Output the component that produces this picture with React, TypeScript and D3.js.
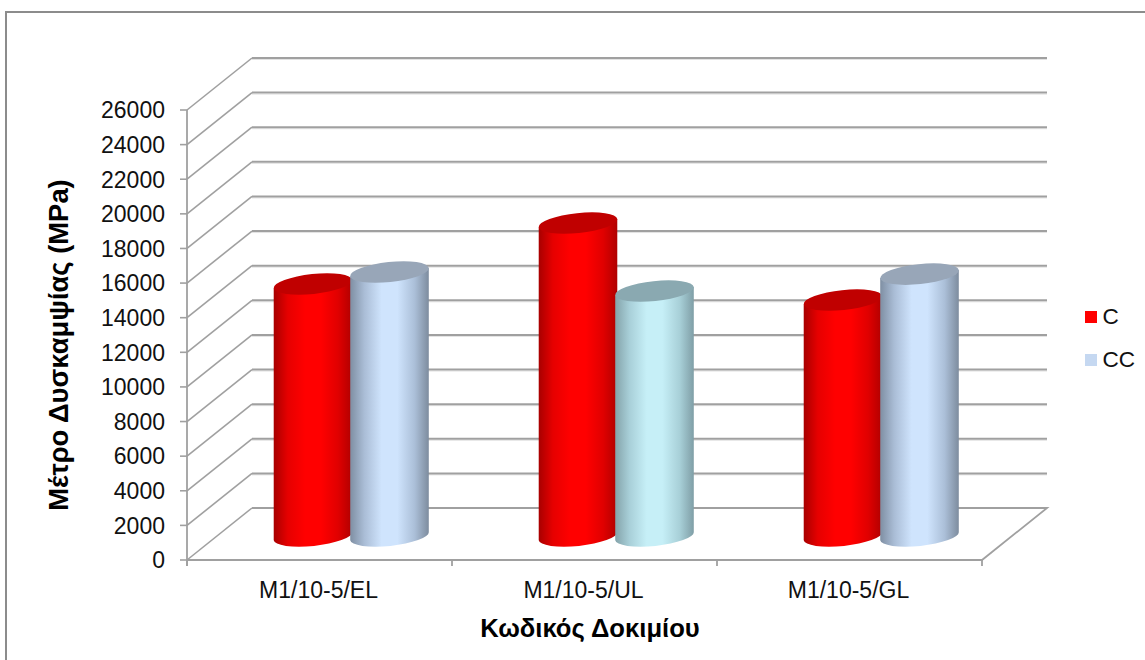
import React from "react";
import * as d3 from "d3";

const categories = ["M1/10-5/EL", "M1/10-5/UL", "M1/10-5/GL"];
const seriesC = [14560, 18080, 13630];
const seriesCC = [15250, 14150, 15130];
const tickValues = d3.range(0, 26001, 2000);
const legendLabels = ["C", "CC"];
const sans = "'Liberation Sans', Arial, sans-serif";

const W = 1145, H = 660;
const x0 = 187, x1 = 982, yBase = 560, yTop = 110;
const depthX = 65, depthY = -52;

const y = d3.scaleLinear().domain([0, 26000]).range([yBase, yTop]);
const band = d3.scaleBand<string>().domain(categories).range([x0, x1]);

const ELL_RX = 39.5, ELL_RY = 10, TILT = -6;
const rad = (TILT * Math.PI) / 180;
const dx = ELL_RX * Math.cos(rad), dy = ELL_RX * Math.sin(rad);

const gradients: Record<string, string[]> = {
  red: ["#a80000", "#e60000", "#ff0000", "#ff0000", "#e00000", "#b00000"],
  blue: ["#7f8fa3", "#aabdd6", "#cfe4fd", "#cfe4fd", "#abbfd8", "#7d8c9e"],
  teal: ["#84a3aa", "#a8cfd8", "#c6eff7", "#c6eff7", "#a8d0d8", "#7f9ea6"],
};
const caps: Record<string, string> = { red: "#c00000", blue: "#98a6b8", teal: "#8aa9b1" };

function Cylinder({ cx, value, tone }: { cx: number; value: number; tone: string }) {
  // The bar stands roughly halfway along the floor's depth.
  const base = yBase - 24;
  const top = base - (yBase - y(value));
  const body =
    `M${cx - dx},${top - dy} L${cx - dx},${base - dy} ` +
    `A${ELL_RX},${ELL_RY} ${TILT} 0 0 ${cx + dx},${base + dy} ` +
    `L${cx + dx},${top + dy} Z`;
  return (
    <g>
      <path d={body} fill={`url(#grad-${tone})`} />
      <ellipse cx={cx} cy={top} rx={ELL_RX} ry={ELL_RY} fill={caps[tone]}
        transform={`rotate(${TILT} ${cx} ${top})`} />
    </g>
  );
}

export default function App() {
  const grid = "#a0a0a0";
  const backLeft = x0 + depthX, backRight = x1 + depthX;
  return (
    <svg width={W} height={H} style={{ position: "absolute", left: 0, top: 0, background: "#fff" }}>
      <defs>
        {Object.entries(gradients).map(([k, stops]) => (
          <linearGradient key={k} id={`grad-${k}`} x1="0" x2="1" y1="0" y2="0">
            {stops.map((c, i) => (
              <stop key={i} offset={[0, 0.18, 0.4, 0.6, 0.82, 1][i]} stopColor={c} />
            ))}
          </linearGradient>
        ))}
      </defs>

      {/* Chart frame: only the top and left edges are in view */}
      <path d={`M6,${H} V12 H${W}`} fill="none" stroke="#8c8c8c" strokeWidth={2} />

      {tickValues.map((t) => (
        <g key={t} fill="none">
          {t > 0 && (
            <g>
              <line x1={backLeft} x2={backRight} y1={y(t) + depthY + 1.5} y2={y(t) + depthY + 1.5} stroke="#e2e2e2" strokeWidth={1} />
              <line x1={backLeft} x2={backRight} y1={y(t) + depthY} y2={y(t) + depthY} stroke={grid} strokeWidth={2} />
            </g>
          )}
          <line x1={x0} x2={backLeft} y1={y(t)} y2={y(t) + depthY} stroke={grid} strokeWidth={1.6} />
          <line x1={x0 - 7} x2={x0} y1={y(t)} y2={y(t)} stroke={grid} strokeWidth={1.6} />
        </g>
      ))}
      <g fill="none" stroke={grid} strokeWidth={1.8}>
        <path d={`M${x0},${yTop} V${yBase + 6}`} />
        <path d={`M${backLeft},${yBase + depthY} H${backRight} L${x1},${yBase} H${x0}`} />
        {[0, 1, 2, 3].map((i) => (
          <line key={i} x1={x0 + i * band.step()} x2={x0 + i * band.step()} y1={yBase} y2={yBase + 6} />
        ))}
      </g>

      {categories.map((c, i) => {
        const mid = (band(c) as number) + band.bandwidth() / 2 + depthX / 2 - 1;
        return (
          <g key={c}>
            <Cylinder cx={mid - 38} value={seriesC[i]} tone="red" />
            <Cylinder cx={mid + 38.5} value={seriesCC[i]} tone={i === 1 ? "teal" : "blue"} />
          </g>
        );
      })}

      <g fontFamily={sans} fill="#000">
        {tickValues.map((t) => (
          <text key={t} x={165} y={y(t)} dy="0.36em" textAnchor="end" fontSize={23} fill="#111">{t}</text>
        ))}
        {categories.map((c) => (
          <text key={c} x={(band(c) as number) + band.bandwidth() / 2 - 1} y={598} textAnchor="middle" fontSize={23} fill="#111">{c}</text>
        ))}
        <text x={590} y={637} textAnchor="middle" fontSize={25.6} fontWeight="bold">Κωδικός Δοκιμίου</text>
        <text transform="translate(68,345) rotate(-90)" textAnchor="middle" fontSize={27.4} fontWeight="bold">Μέτρο Δυσκαμψίας (MPa)</text>
        {legendLabels.map((l, i) => (
          <g key={l}>
            <rect x={1085} y={311 + i * 43} width={12} height={12} fill={i === 0 ? "#ff0000" : "#c5d8f1"} />
            <text x={1102.5} y={324 + i * 43} fontSize={22.6} fill="#111">{l}</text>
          </g>
        ))}
      </g>
    </svg>
  );
}
